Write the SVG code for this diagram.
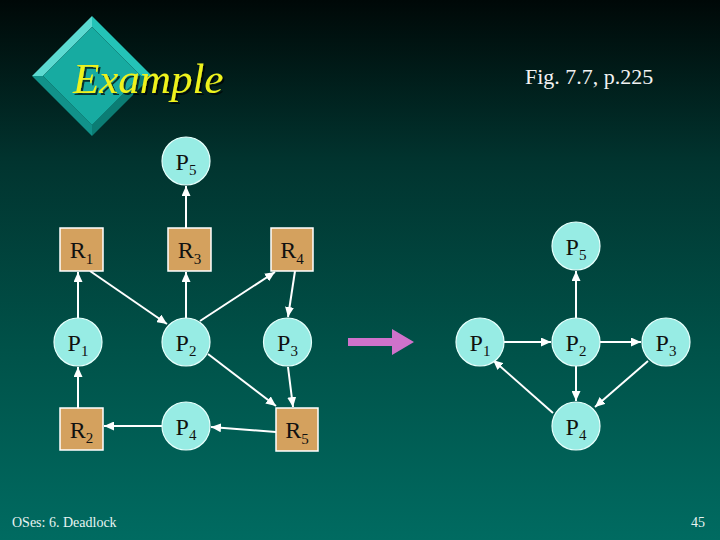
<svg xmlns="http://www.w3.org/2000/svg" width="720" height="540" viewBox="0 0 720 540">
  <defs>
    <linearGradient id="bg" x1="0" y1="0" x2="0" y2="1">
      <stop offset="0" stop-color="#000807"/>
      <stop offset="0.3" stop-color="#01342f"/>
      <stop offset="0.65" stop-color="#005249"/>
      <stop offset="1" stop-color="#006b61"/>
    </linearGradient>
    <marker id="ah" markerUnits="userSpaceOnUse" markerWidth="10" markerHeight="9" refX="10" refY="4.5" orient="auto">
      <path d="M0,0 L10,4.5 L0,9 z" fill="#ffffff"/>
    </marker>
    <filter id="sh" x="-10%" y="-10%" width="130%" height="140%">
      <feDropShadow dx="2" dy="2" stdDeviation="0.6" flood-color="#000000" flood-opacity="0.7"/>
    </filter>
  </defs>
  <style>
    .proc { fill: #97ece4; stroke: #e6fffc; stroke-width: 1.2; }
    .res { fill: #d4a15e; stroke: #ffffff; stroke-width: 1.5; }
    .lbl { font-family: "Liberation Serif", "Times New Roman", serif; font-size: 24px; fill: #111111; text-anchor: middle; }
    .sub { font-size: 15px; }
    .edge { stroke: #ffffff; stroke-width: 2; fill: none; marker-end: url(#ah); }
    .foot { font-family: "Liberation Serif", "Times New Roman", serif; font-size: 14px; fill: #e8f4f2; }
  </style>

  <rect x="0" y="0" width="720" height="540" fill="url(#bg)"/>

  <!-- title decoration -->
  <g id="title">
    <polygon points="92,16 152,76 141,76 92,27" fill="#24c3b7"/>
    <polygon points="92,16 92,27 43,76 32,76" fill="#5cdad1"/>
    <polygon points="152,76 92,136 92,125 141,76" fill="#0b7d74"/>
    <polygon points="32,76 43,76 92,125 92,136" fill="#11928a"/>
    <polygon points="92,27 141,76 92,125 43,76" fill="#17aba1"/>
    <text x="73" y="93" font-family="'Liberation Serif', 'Times New Roman', serif" font-style="italic" font-size="43" fill="#eef21f" filter="url(#sh)">Example</text>
  </g>
  <text x="525" y="84" font-family="'Liberation Serif', 'Times New Roman', serif" font-size="22" fill="#f2f2f2">Fig. 7.7, p.225</text>

  <!-- connectors -->
  <g id="connectors">
    <line class="edge" x1="78" y1="318" x2="78" y2="272"/>
    <line class="edge" x1="90" y1="271" x2="167" y2="324"/>
    <line class="edge" x1="186" y1="318" x2="186" y2="272"/>
    <line class="edge" x1="200" y1="321" x2="275" y2="272"/>
    <line class="edge" x1="295" y1="271" x2="288" y2="317"/>
    <line class="edge" x1="288" y1="367" x2="293" y2="407"/>
    <line class="edge" x1="208" y1="354" x2="276" y2="406"/>
    <line class="edge" x1="276" y1="432" x2="211" y2="427"/>
    <line class="edge" x1="162" y1="426" x2="104" y2="426"/>
    <line class="edge" x1="78" y1="408" x2="78" y2="367"/>
    <line class="edge" x1="186" y1="228" x2="186" y2="186"/>

    <line class="edge" x1="576" y1="318" x2="576" y2="271"/>
    <line class="edge" x1="504" y1="342" x2="551" y2="342"/>
    <line class="edge" x1="600" y1="342" x2="641" y2="342"/>
    <line class="edge" x1="576" y1="366" x2="576" y2="401"/>
    <line class="edge" x1="648" y1="361" x2="595" y2="407"/>
    <line class="edge" x1="553" y1="413" x2="493" y2="360"/>

    <polygon points="348,338 392,338 392,329 414,342 392,355 392,346 348,346" fill="#cf72cb"/>
  </g>

  <!-- left graph nodes -->
  <g id="L_P5"><circle class="proc" cx="186" cy="161" r="24"/><text class="lbl" x="186" y="169.5">P<tspan class="sub" dy="5.5">5</tspan></text></g>
  <g id="L_R1"><rect class="res" x="60" y="228" width="43" height="43"/><text class="lbl" x="81.5" y="258">R<tspan class="sub" dy="5.5">1</tspan></text></g>
  <g id="L_R3"><rect class="res" x="168" y="228" width="43" height="43"/><text class="lbl" x="189.5" y="258">R<tspan class="sub" dy="5.5">3</tspan></text></g>
  <g id="L_R4"><rect class="res" x="271" y="228" width="42" height="43"/><text class="lbl" x="292" y="258">R<tspan class="sub" dy="5.5">4</tspan></text></g>
  <g id="L_P1"><circle class="proc" cx="78" cy="342" r="24"/><text class="lbl" x="78" y="350.5">P<tspan class="sub" dy="5.5">1</tspan></text></g>
  <g id="L_P2"><circle class="proc" cx="186" cy="342" r="24"/><text class="lbl" x="186" y="350.5">P<tspan class="sub" dy="5.5">2</tspan></text></g>
  <g id="L_P3"><circle class="proc" cx="287.5" cy="342" r="24"/><text class="lbl" x="287.5" y="350.5">P<tspan class="sub" dy="5.5">3</tspan></text></g>
  <g id="L_R2"><rect class="res" x="60" y="408" width="43" height="42"/><text class="lbl" x="81.5" y="437.5">R<tspan class="sub" dy="5.5">2</tspan></text></g>
  <g id="L_P4"><circle class="proc" cx="186" cy="426" r="24"/><text class="lbl" x="186" y="434.5">P<tspan class="sub" dy="5.5">4</tspan></text></g>
  <g id="L_R5"><rect class="res" x="276" y="408" width="42" height="43"/><text class="lbl" x="297" y="438">R<tspan class="sub" dy="5.5">5</tspan></text></g>

  <!-- right graph nodes -->
  <g id="R_P5"><circle class="proc" cx="576" cy="246" r="24"/><text class="lbl" x="576" y="254.5">P<tspan class="sub" dy="5.5">5</tspan></text></g>
  <g id="R_P1"><circle class="proc" cx="480" cy="342" r="24"/><text class="lbl" x="480" y="350.5">P<tspan class="sub" dy="5.5">1</tspan></text></g>
  <g id="R_P2"><circle class="proc" cx="576" cy="342" r="24"/><text class="lbl" x="576" y="350.5">P<tspan class="sub" dy="5.5">2</tspan></text></g>
  <g id="R_P3"><circle class="proc" cx="666" cy="342" r="24"/><text class="lbl" x="666" y="350.5">P<tspan class="sub" dy="5.5">3</tspan></text></g>
  <g id="R_P4"><circle class="proc" cx="576" cy="426" r="24"/><text class="lbl" x="576" y="434.5">P<tspan class="sub" dy="5.5">4</tspan></text></g>

  <text class="foot" x="12" y="527">OSes: 6. Deadlock</text>
  <text class="foot" x="705" y="527" text-anchor="end">45</text>
</svg>
